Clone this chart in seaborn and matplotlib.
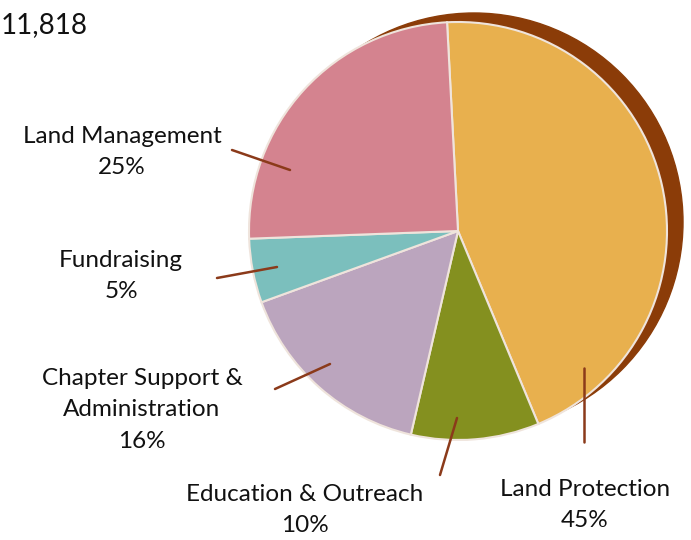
import matplotlib
matplotlib.use("Agg")
import matplotlib.pyplot as plt
from matplotlib.patches import Circle
import seaborn as sns

# -------------------- DATA --------------------
categories = ["Land Protection", "Education & Outreach",
              "Chapter Support &\nAdministration", "Fundraising", "Land Management"]
shares = [45, 10, 16, 5, 25]
colors = ["#E8B04E", "#84901F", "#BBA5BE", "#7BBFBD", "#D4838F"]
total_label = "11,818"

# -------------------- STYLE --------------------
sns.set_theme(style="white")
plt.rcParams["font.family"] = ["Lato", "DejaVu Sans"]

H = 540  # figure height in px, to flip y


def py(y):
    return H - y


fig = plt.figure(figsize=(6.91, 5.40), dpi=100)
ax = fig.add_axes([0, 0, 1, 1])

cx, cy, r = 458, py(231), 209

# brown backing circle (the 3D rim)
ax.add_patch(Circle((cx + 16, cy + 9), r, color="#8B3C08", zorder=0))

ax.pie(shares, colors=colors, startangle=93, counterclock=False,
       center=(cx, cy), radius=r,
       wedgeprops=dict(edgecolor="#EFE4DC", linewidth=1.5, zorder=1))

# leader lines
lines = [
    ((584, 442), (584, 368)),
    ((440, 475), (457, 418)),
    ((275, 389), (330, 364)),
    ((217, 278), (277, 267)),
    ((232, 150), (290, 170)),
]
for (x0, y0), (x1, y1) in lines:
    ax.plot([x0, x1], [py(y0), py(y1)], color="#8B3A1A", lw=1.8, zorder=3)

# labels
label_pos = [(585, 505), (305, 510), (142, 410), (121, 276), (122, 152)]
for name, share, (x, y) in zip(categories, shares, label_pos):
    ax.text(x, py(y), f"{name}\n{share}%", ha="center", va="center",
            fontsize=17.5, color="#111111", linespacing=1.62, zorder=4)

ax.text(1, py(25), total_label, ha="left", va="center", fontsize=20,
        color="#111111")

ax.set_xlim(0, 691)
ax.set_ylim(0, H)
ax.set_aspect("equal")
ax.axis("off")

fig.savefig("out.png", dpi=100, facecolor="white")
